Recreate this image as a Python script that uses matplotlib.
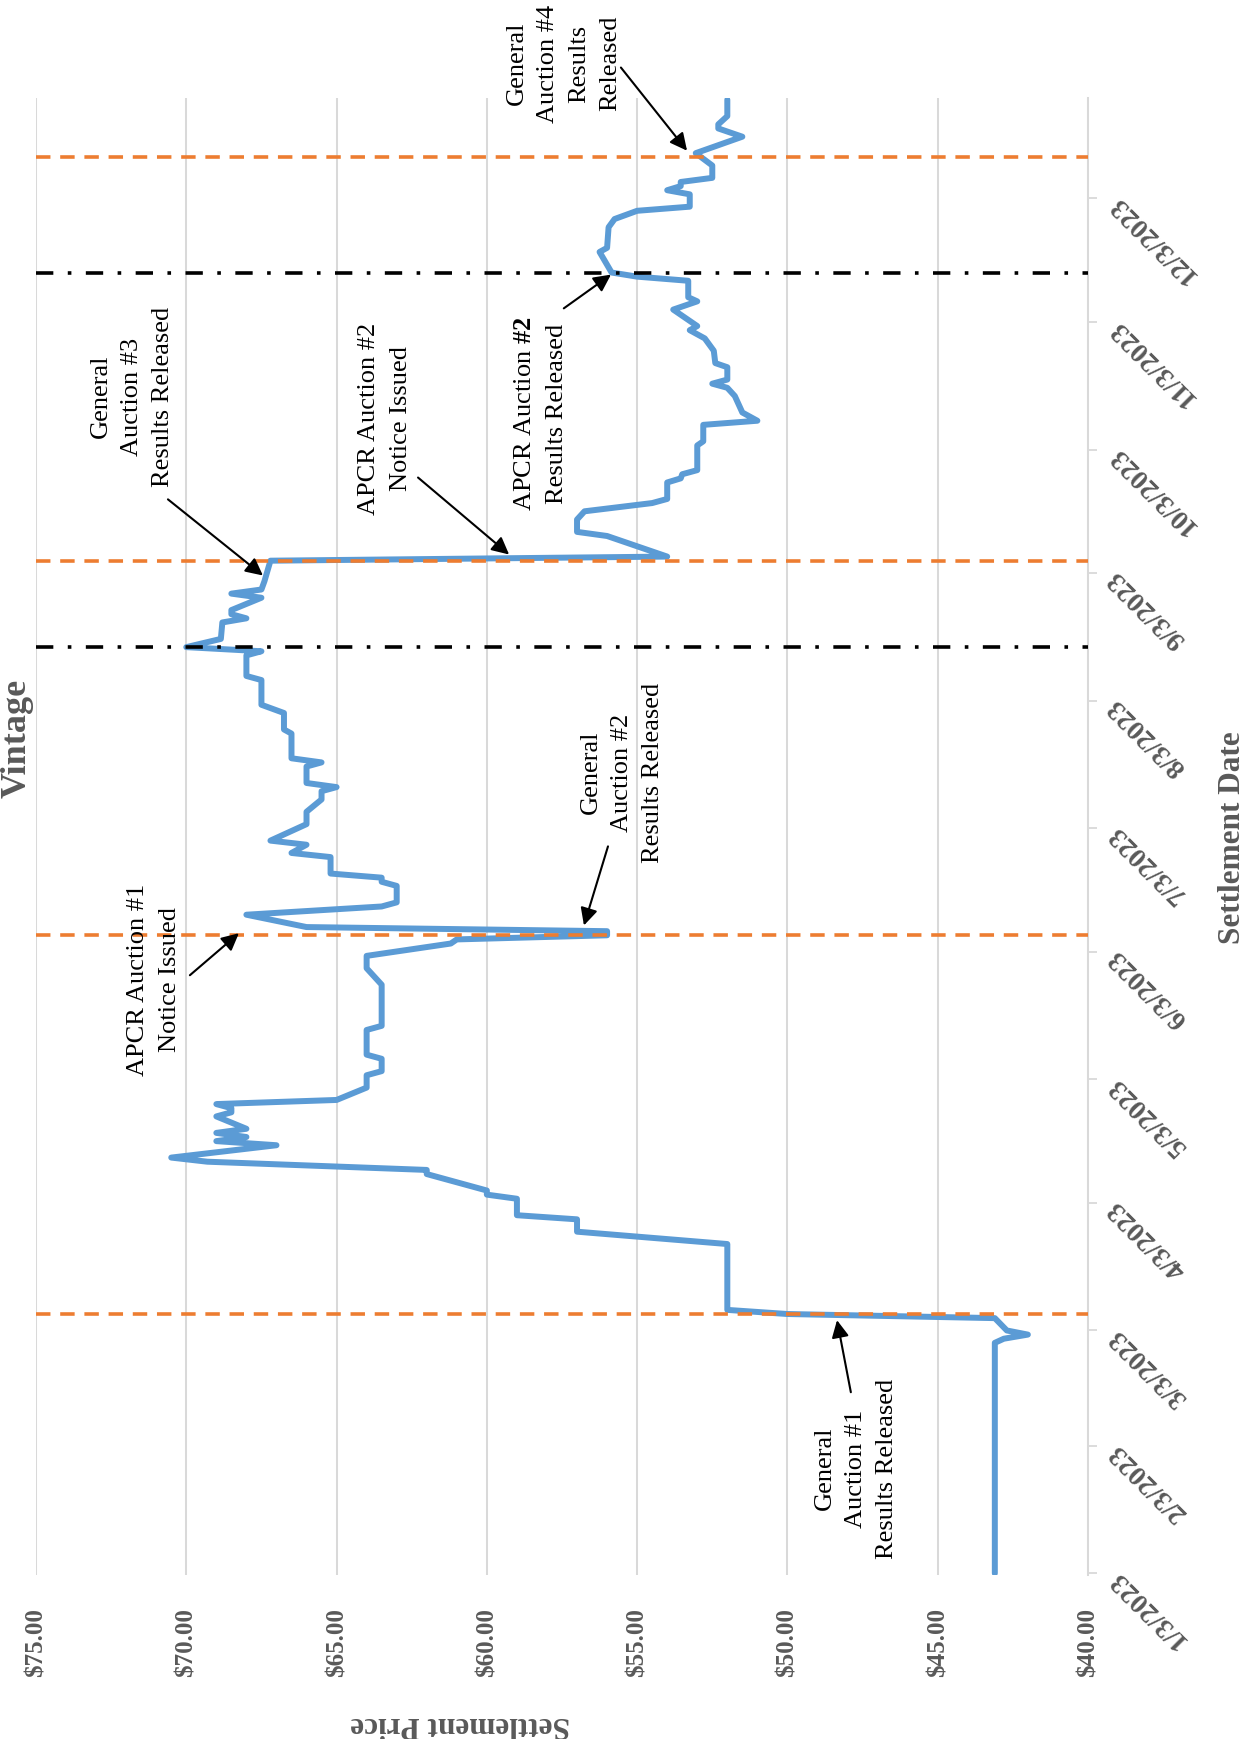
import matplotlib
matplotlib.use("Agg")
import matplotlib.pyplot as plt
import matplotlib.dates as mdates
import pandas as pd

plt.rcParams['font.family'] = ['Liberation Serif', 'DejaVu Serif']
plt.rcParams['mathtext.fontset'] = 'custom'
plt.rcParams['mathtext.rm'] = 'Liberation Serif'
plt.rcParams['mathtext.bf'] = 'Liberation Serif:bold'

# settlement prices
dates = [
    '2023-01-03', '2023-02-28', '2023-03-01', '2023-03-02', '2023-03-03', '2023-03-06',
    '2023-03-07', '2023-03-08', '2023-03-24', '2023-03-27', '2023-03-30', '2023-03-31',
    '2023-04-04', '2023-04-05', '2023-04-06', '2023-04-10', '2023-04-11', '2023-04-13',
    '2023-04-14', '2023-04-17', '2023-04-18', '2023-04-19', '2023-04-20', '2023-04-21',
    '2023-04-24', '2023-04-25', '2023-04-26', '2023-04-27', '2023-04-28', '2023-05-01',
    '2023-05-04', '2023-05-05', '2023-05-08', '2023-05-09', '2023-05-15', '2023-05-16',
    '2023-05-26', '2023-05-30', '2023-06-02', '2023-06-05', '2023-06-06', '2023-06-07',
    '2023-06-08', '2023-06-09', '2023-06-12', '2023-06-14', '2023-06-15', '2023-06-19',
    '2023-06-20', '2023-06-21', '2023-06-22', '2023-06-26', '2023-06-27', '2023-06-29',
    '2023-06-30', '2023-07-04', '2023-07-07', '2023-07-10', '2023-07-12', '2023-07-13',
    '2023-07-14', '2023-07-18', '2023-07-19', '2023-07-20', '2023-07-26', '2023-07-27',
    '2023-07-31', '2023-08-02', '2023-08-08', '2023-08-09', '2023-08-11', '2023-08-14',
    '2023-08-15', '2023-08-16', '2023-08-18', '2023-08-22', '2023-08-23', '2023-08-24',
    '2023-08-25', '2023-08-28', '2023-08-29', '2023-08-30', '2023-09-01', '2023-09-06',
    '2023-09-07', '2023-09-12', '2023-09-13', '2023-09-16', '2023-09-18', '2023-09-20',
    '2023-09-21', '2023-09-25', '2023-09-26', '2023-09-27', '2023-09-28', '2023-10-04',
    '2023-10-05', '2023-10-09', '2023-10-10', '2023-10-12', '2023-10-16', '2023-10-18',
    '2023-10-19', '2023-10-20', '2023-10-23', '2023-10-24', '2023-10-27', '2023-10-30',
    '2023-11-01', '2023-11-02', '2023-11-06', '2023-11-08', '2023-11-09', '2023-11-13',
    '2023-11-14', '2023-11-15', '2023-11-20', '2023-11-21', '2023-11-26', '2023-11-28',
    '2023-11-30', '2023-12-01', '2023-12-04', '2023-12-05', '2023-12-06', '2023-12-07',
    '2023-12-08', '2023-12-11', '2023-12-14', '2023-12-18', '2023-12-20', '2023-12-21',
    '2023-12-23', '2023-12-27',
]
prices = [
    43.1, 43.1, 42.8, 42.0, 42.7, 43.1,
    50.0, 52.0, 52.0, 57.0, 57.0, 59.0,
    59.0, 60.0, 60.0, 62.0, 62.0, 69.3,
    70.5, 67.0, 69.0, 68.0, 69.0, 68.0,
    69.0, 68.5, 68.5, 69.0, 65.0, 64.0,
    64.0, 63.5, 63.5, 64.0, 64.0, 63.5,
    63.5, 64.0, 64.0, 61.2, 61.0, 56.0,
    56.0, 66.0, 68.0, 63.5, 63.0, 63.0,
    63.5, 63.5, 65.2, 65.2, 66.5, 66.0,
    67.2, 66.0, 66.0, 65.5, 65.5, 65.0,
    66.0, 66.0, 65.5, 66.5, 66.5, 66.75,
    66.75, 67.5, 67.5, 68.0, 68.0, 68.0,
    67.5, 70.0, 68.85, 68.8, 68.0, 68.5,
    68.5, 67.5, 68.5, 67.5, 67.4, 67.2,
    54.0, 56.0, 57.0, 57.0, 56.75, 54.5,
    54.0, 54.0, 53.55, 53.5, 53.0, 53.0,
    52.8, 52.8, 51.0, 51.5, 51.75, 52.0,
    52.5, 52.0, 52.0, 52.4, 52.45, 52.75,
    53.25, 53.0, 53.8, 53.0, 53.3, 53.3,
    55.0, 55.85, 56.25, 56.0, 55.95, 55.75,
    55.0, 53.25, 53.25, 54.0, 53.55, 53.55,
    52.5, 52.5, 53.05, 51.5, 52.3, 52.3,
    52.0, 52.0,
]

general_auction_dates = ['2023-03-07', '2023-06-07', '2023-09-06', '2023-12-13']
apcr_auction_dates = ['2023-08-16', '2023-11-15']

price_ticks = [75, 70, 65, 60, 55, 50, 45, 40]
date_ticks = ['2023-%02d-03' % m for m in range(1, 13)]
date_tick_labels = ['%d/3/2023' % m for m in range(1, 13)]

# annotation text, (price, days after 1/3) for text, arrow tail, arrow head
notes = [
    ('General\nAuction #1\nResults Released', (47.72, 25.7), (47.89, 44.0), (48.35, 61.5)),
    ('APCR Auction #1\nNotice Issued', (71.07, 144.5), (69.88, 145.3), (68.25, 155.5)),
    ('General\nAuction #2\nResults Released', (55.51, 194.8), (55.97, 176.6), (56.77, 157.4)),
    ('General\nAuction #3\nResults Released', (71.81, 286.1), (70.61, 260.9), (67.45, 242.4)),
    ('APCR Auction #2\nNotice Issued', (63.39, 280.8), (62.29, 266.2), (59.26, 247.5)),
    ('APCR Auction $\\mathbf{\\#2}$\nResults Released', (58.2, 282.0), (57.44, 307.3), (55.87, 315.5)),
    ('General\nAuction #4\nResults\nReleased', (57.45, 367.0), (55.54, 365.8), (53.34, 345.6)),
]

base = pd.Timestamp('2023-01-03')


def day(d):
    return mdates.date2num(base + pd.Timedelta(days=d))


grey = '#595959'
fig = plt.figure(figsize=(12.44, 17.40), dpi=100)
ax = fig.add_axes([36 / 1244, 164 / 1740, 1052 / 1244, 1477 / 1740])

y = mdates.date2num(pd.to_datetime(dates))
ax.plot(prices, y, color='#5B9BD5', lw=4.3, zorder=2,
        solid_joinstyle='round', solid_capstyle='round')

for d in general_auction_dates:
    ln = ax.axhline(mdates.date2num(pd.Timestamp(d)), color='#ED7D31', lw=2.6, zorder=3)
    ln.set_dashes((4, 2.7))
for d in apcr_auction_dates:
    ln = ax.axhline(mdates.date2num(pd.Timestamp(d)), color='black', lw=2.6, zorder=3)
    ln.set_dashes((4.8, 4.0, 1.0, 4.0))

ax.set_xlim(75, 40)
ax.set_ylim(day(-0.4), day(358.4))

ax.set_xticks(price_ticks)
ax.set_xticklabels(['$%.2f' % v for v in price_ticks], rotation=90,
                   fontsize=18, fontweight='bold', color=grey)
ax.tick_params(axis='x', length=0, pad=23)
ax.grid(axis='x', color='#D9D9D9', lw=1.45)
ax.set_axisbelow(True)

ax.yaxis.tick_right()
ax.set_yticks(mdates.date2num(pd.to_datetime(date_ticks)))
ax.set_yticklabels(date_tick_labels, fontsize=20, fontweight='bold', color=grey)
plt.setp(ax.get_yticklabels(), rotation=135, rotation_mode='anchor', ha='right', va='center')
ax.tick_params(axis='y', direction='out', length=6.5, width=1.3, color='#D9D9D9', pad=11)

for s in ['top', 'left', 'bottom']:
    ax.spines[s].set_visible(False)
ax.spines['right'].set_color('#D9D9D9')
ax.spines['right'].set_linewidth(1.45)

for txt, tpos, tail, head in notes:
    ax.text(tpos[0], day(tpos[1]), txt, rotation=90, ha='center', va='center',
            multialignment='center', fontsize=19, linespacing=1.55, color='black')
    ax.annotate('', xy=(head[0], day(head[1])), xytext=(tail[0], day(tail[1])),
                arrowprops=dict(arrowstyle='-|>', color='black', lw=1.5,
                                mutation_scale=26, shrinkA=0, shrinkB=0),
                annotation_clip=False, zorder=5)

fig.text(17 / 1244, 1 - 738 / 1740, 'Vintage', rotation=90, ha='center', va='center',
         fontsize=26, fontweight='bold', color=grey)
fig.text(1232 / 1244, 1 - 838 / 1740, 'Settlement Date', rotation=90, ha='center',
         va='center', fontsize=22.5, fontweight='bold', color=grey)
fig.text(460 / 1244, 1 - 1725 / 1740, 'Settlement Price', rotation=180, ha='center',
         va='center', fontsize=22.5, fontweight='bold', color=grey)

plt.savefig('out.png', dpi=100)
